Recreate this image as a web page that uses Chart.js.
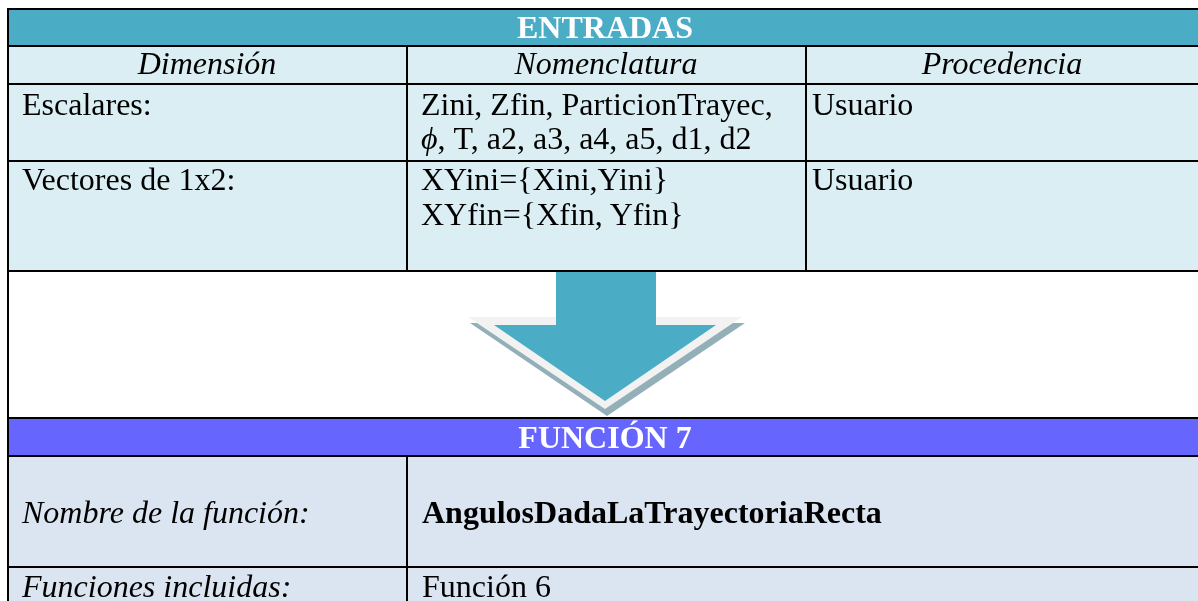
<!DOCTYPE html>
<html>
<head>
<meta charset="utf-8">
<script src="https://cdn.jsdelivr.net/npm/chart.js@4.4.1/dist/chart.umd.min.js"></script>
<style>
  html, body { margin: 0; padding: 0; background: #fff; overflow: hidden; }
  #page { position: relative; width: 1198px; height: 601px; overflow: hidden; }
  .band, .rule { position: absolute; }
  .rule { background: #000; }
  .txt {
    position: absolute; white-space: nowrap;
    font-family: "Liberation Serif", "Times New Roman", serif;
    font-size: 32px; line-height: 32px; color: #000;
  }
  #arrow { position: absolute; left: 0; top: 0; pointer-events: none; }
</style>
</head>
<body>
<div id="page">
  <canvas id="arrow" width="1198" height="601"></canvas>
</div>
<script>
// table contents
const inputTitle = 'ENTRADAS';
const columnHeads = ['Dimensión', 'Nomenclatura', 'Procedencia'];
const dimensions = ['Escalares:', 'Vectores de 1x2:'];
const nomenclature = [
    ['Zini, Zfin, ParticionTrayec,', 'ϕ, T, a2, a3, a4, a5, d1, d2'],
    ['XYini={Xini,Yini}', 'XYfin={Xfin, Yfin}']
];
const origins = ['Usuario', 'Usuario'];
const functionTitle = 'FUNCIÓN 7';
const functionLabels = ['Nombre de la función:', 'Funciones incluidas:'];
const functionValues = ['AngulosDadaLaTrayectoriaRecta', 'Función 6'];

// arrow outline (drawn through the chart's linear scales)
const stemX = [556, 656, 656, 556, 556];
const stemY = [271, 271, 325, 325, 271];
const headX = [494, 716, 605, 494];
const headY = [325, 325, 401, 325];
const rimX = [468, 742, 605, 468];
const rimY = [317, 317, 409, 317];
const shadowX = [470, 745, 607, 470];
const shadowY = [323, 323, 416, 323];

const page = document.getElementById('page');

function box(x, y, w, h, color) {
    const d = document.createElement('div');
    d.className = 'band';
    Object.assign(d.style, { left: x + 'px', top: y + 'px', width: w + 'px', height: h + 'px', background: color });
    page.insertBefore(d, page.firstChild);
}

function rule(x, y, w, h) {
    const d = document.createElement('div');
    d.className = 'rule';
    Object.assign(d.style, { left: x + 'px', top: y + 'px', width: w + 'px', height: h + 'px' });
    page.appendChild(d);
}

function text(str, x, baseline, opts = {}) {
    const d = document.createElement('div');
    d.className = 'txt';
    if (opts.html) d.innerHTML = str; else d.textContent = str;
    d.style.top = (baseline - 27) + 'px';
    d.style.left = x + 'px';
    if (opts.italic) d.style.fontStyle = 'italic';
    if (opts.bold) d.style.fontWeight = 'bold';
    if (opts.color) d.style.color = opts.color;
    if (opts.center) d.style.transform = 'translateX(-50%)';
    page.appendChild(d);
}

function buildTable() {
    // row backgrounds
    box(8, 10, 1200, 35, '#4BACC6');
    box(8, 47, 1200, 223, '#DAEEF3');
    box(8, 419, 1200, 36, '#6666FF');
    box(8, 457, 1200, 150, '#DBE5F1');

    // rules
    [8, 45, 83, 160, 270, 417, 455, 566].forEach(y => rule(7, y, 1200, 2));
    rule(7, 8, 2, 593);
    rule(406, 45, 2, 227);
    rule(805, 45, 2, 227);
    rule(406, 455, 2, 146);

    // ENTRADAS block
    text(inputTitle, 605, 38, { bold: true, center: true, color: '#fff' });
    const centers = [207, 606, 1002];
    columnHeads.forEach((h, i) => text(h, centers[i], 74, { italic: true, center: true }));

    text(dimensions[0], 22, 115);
    text(nomenclature[0][0], 421, 115);
    text(nomenclature[0][1].replace('ϕ', '<i>ϕ</i>'), 421, 149, { html: true });
    text(origins[0], 812, 115);

    text(dimensions[1], 22, 190);
    text(nomenclature[1][0], 421, 190);
    text(nomenclature[1][1], 421, 225);
    text(origins[1], 812, 190);

    // FUNCIÓN block
    text(functionTitle, 605, 448, { bold: true, center: true, color: '#fff' });
    text(functionLabels[0], 22, 523, { italic: true });
    text(functionValues[0], 422, 523, { bold: true });
    text(functionLabels[1], 22, 597, { italic: true });
    text(functionValues[1], 422, 597);
}

function shape(xs, ys, color, order) {
    return {
        data: xs.map((x, i) => ({ x, y: ys[i] })),
        backgroundColor: color,
        borderColor: 'transparent',
        borderWidth: 0,
        pointRadius: 0,
        fill: 'shape',
        tension: 0,
        order: order,
        clip: false
    };
}

function drawArrow() {
    const ctx = document.getElementById('arrow').getContext('2d');
    new Chart(ctx, {
        type: 'line',
        data: {
            datasets: [
                shape(stemX, stemY, '#4BACC6', 0),
                shape(headX, headY, '#4BACC6', 1),
                shape(rimX, rimY, '#F2F2F2', 2),
                shape(shadowX, shadowY, '#93B0B9', 3)
            ]
        },
        options: {
            responsive: false,
            animation: false,
            layout: { padding: 0 },
            scales: {
                x: { type: 'linear', min: 0, max: 1198, display: false },
                y: { type: 'linear', min: 0, max: 601, reverse: true, display: false }
            },
            plugins: { legend: { display: false }, tooltip: { enabled: false } }
        }
    });
}

buildTable();
try {
    drawArrow();
} catch (e) {
    console.error('Chart init error', e);
}
</script>
</body>
</html>
